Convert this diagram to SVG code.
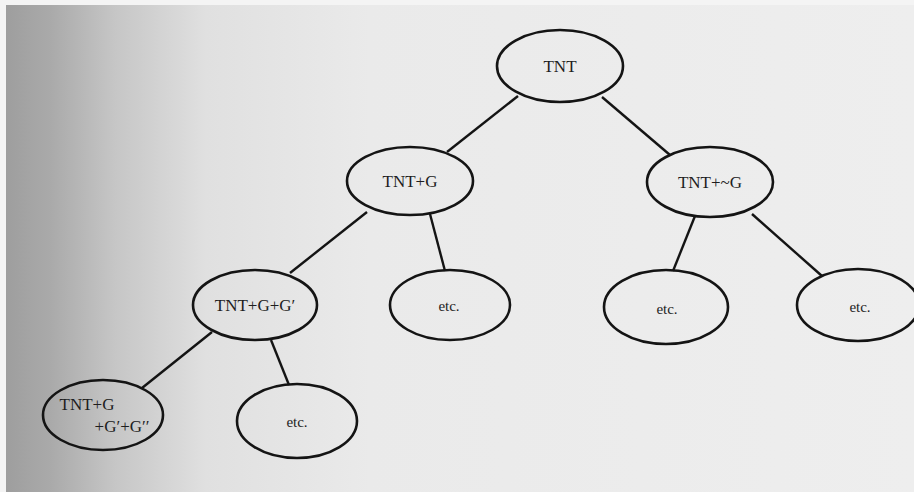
<svg xmlns="http://www.w3.org/2000/svg" width="914" height="492" viewBox="0 0 914 492">
<defs>
<linearGradient id="bg" gradientUnits="userSpaceOnUse" x1="6" y1="0" x2="914" y2="0">
<stop offset="0" stop-color="#9e9e9e"/>
<stop offset="0.05" stop-color="#aaaaaa"/>
<stop offset="0.12" stop-color="#c6c6c6"/>
<stop offset="0.22" stop-color="#e0e0e0"/>
<stop offset="0.4" stop-color="#eaeaea"/>
<stop offset="1" stop-color="#eeeeee"/>
</linearGradient>
<style>
.n ellipse{fill:none;stroke:#141414;stroke-width:2.6}
.n text{font-family:"Liberation Serif","Times New Roman",serif;font-size:17px;fill:#1e1e1e;text-anchor:middle}
.n text.e{font-size:15px}
#edges line{stroke:#141414;stroke-width:2.4}
</style>
</defs>
<rect width="914" height="492" fill="#f4f4f4"/>
<rect x="6" y="5" width="908" height="487" fill="url(#bg)"/>
<g id="edges">
<line x1="518" y1="96" x2="447" y2="152"/>
<line x1="602" y1="97" x2="670" y2="155"/>
<line x1="367" y1="212" x2="290" y2="273"/>
<line x1="430" y1="214" x2="445" y2="271"/>
<line x1="695" y1="216" x2="673" y2="271"/>
<line x1="752" y1="214" x2="822" y2="276"/>
<line x1="212" y1="332" x2="142" y2="388"/>
<line x1="271" y1="340" x2="289" y2="385"/>
</g>
<g id="n-tnt" class="n"><ellipse cx="560" cy="66" rx="63" ry="36"/><text x="560" y="72">TNT</text></g>
<g id="n-tntg" class="n"><ellipse cx="410" cy="181" rx="63" ry="34"/><text x="410" y="187">TNT+G</text></g>
<g id="n-tntng" class="n"><ellipse cx="710" cy="182" rx="63" ry="35"/><text x="710" y="188">TNT+~G</text></g>
<g id="n-tntgg" class="n"><ellipse cx="255" cy="305" rx="62" ry="35"/><text x="255" y="311">TNT+G+G′</text></g>
<g id="n-etc1" class="n"><ellipse cx="450" cy="305" rx="60" ry="35"/><text class="e" x="449" y="311">etc.</text></g>
<g id="n-etc2" class="n"><ellipse cx="666" cy="307" rx="62" ry="37"/><text class="e" x="667" y="314">etc.</text></g>
<g id="n-etc3" class="n"><ellipse cx="858" cy="305" rx="61" ry="36"/><text class="e" x="860" y="312">etc.</text></g>
<g id="n-tntggg" class="n"><ellipse cx="103" cy="415" rx="60" ry="35"/><text x="87" y="410">TNT+G</text><text x="122" y="432">+G′+G′′</text></g>
<g id="n-etc4" class="n"><ellipse cx="297" cy="421" rx="60" ry="37"/><text class="e" x="297" y="427">etc.</text></g>
</svg>
